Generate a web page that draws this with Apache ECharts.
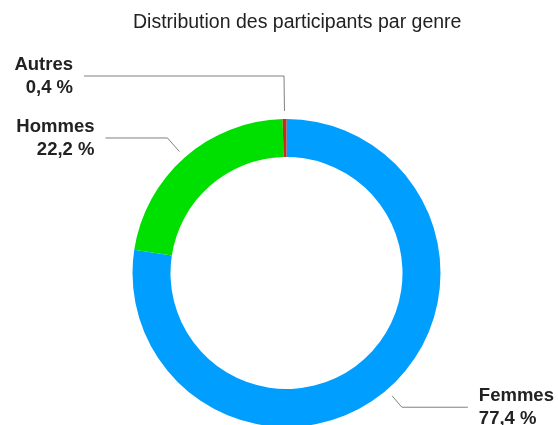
<!DOCTYPE html>
<html>
<head>
<meta charset="utf-8">
<script src="https://cdn.jsdelivr.net/npm/echarts@6/dist/echarts.min.js"></script>
<style>
  html, body { margin: 0; padding: 0; background: #fff; }
  #chart { width: 558px; height: 425px; }
</style>
</head>
<body>
<div id="chart"></div>
<script>
// données
var genres = ['Femmes', 'Hommes', 'Autres'];
var pourcentages = [77.4, 22.2, 0.4];
var couleurs = ['#009EFF', '#00E000', '#C62D1F'];
// longueurs des traits de rappel (radial, horizontal)
var traitRadial = [23, 26, 43];
var traitHoriz = [66, 62, 200];

var myChart = echarts.init(document.getElementById('chart'));

var donnees = [];
for (var i = 0; i < genres.length; i++) {
    donnees.push({
        name: genres[i],
        value: pourcentages[i],
        itemStyle: { color: couleurs[i] },
        labelLine: { length: traitRadial[i], length2: traitHoriz[i] }
    });
}

var GAP = 8; // espace entre l'anneau et le trait

option = {
    animation: false,
    backgroundColor: '#fff',
    title: {
        text: 'Distribution des participants par genre',
        left: 128,
        top: 8,
        textStyle: {
            fontFamily: 'Liberation Sans, Arial, Helvetica, sans-serif',
            fontSize: 19.5,
            fontWeight: 'normal',
            color: '#222'
        }
    },
    series: [
        {
            type: 'pie',
            center: [286.5, 273],
            radius: [116, 154],
            startAngle: 90,
            clockwise: true,
            avoidLabelOverlap: false,
            data: donnees,
            label: {
                show: true,
                position: 'outside',
                distanceToLabelLine: 11,
                fontFamily: 'Liberation Sans, Arial, Helvetica, sans-serif',
                fontSize: 18.5,
                fontWeight: 'bold',
                lineHeight: 23,
                color: '#222',
                formatter: function (p) {
                    return p.name + '\n' + String(p.value).replace('.', ',') + ' %';
                }
            },
            labelLine: {
                show: true,
                lineStyle: { color: '#808080', width: 1 }
            },
            emphasis: { disabled: true },
            labelLayout: function (params) {
                var pts = params.labelLinePoints;
                if (!pts) return {};
                var dx = pts[1][0] - pts[0][0];
                var dy = pts[1][1] - pts[0][1];
                var d = Math.sqrt(dx * dx + dy * dy) || 1;
                var p0 = [pts[0][0] + dx / d * GAP, pts[0][1] + dy / d * GAP];
                return { labelLinePoints: [p0, pts[1], pts[2]] };
            }
        }
    ]
};

myChart.setOption(option);
</script>
</body>
</html>
